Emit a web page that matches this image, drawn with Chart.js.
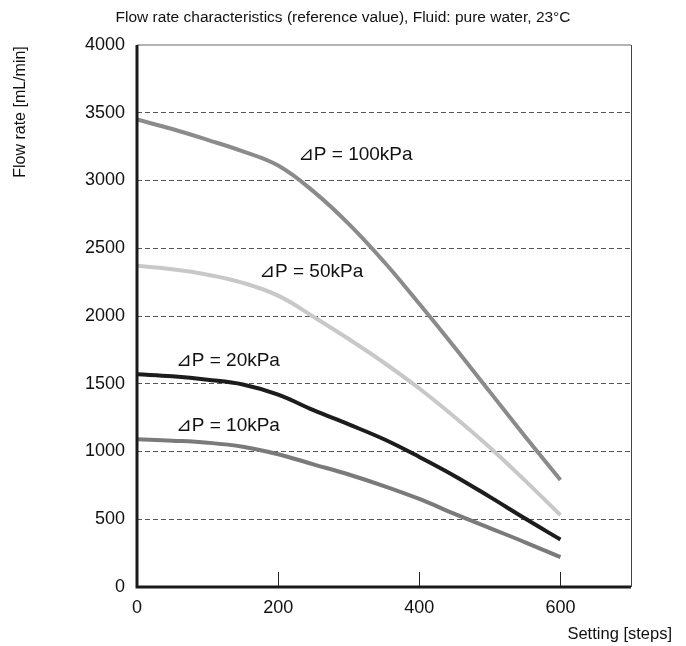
<!DOCTYPE html>
<html>
<head>
<meta charset="utf-8">
<script src="https://cdn.jsdelivr.net/npm/chart.js@4.4.0/dist/chart.umd.min.js"></script>
<style>
  html, body { margin: 0; padding: 0; background: #fff; }
  #wrap { width: 686px; height: 646px; }
</style>
</head>
<body>
<div id="wrap"><canvas id="flow"></canvas></div>
<script>
// setting [steps]
const steps = [0, 50, 100, 150, 200, 250, 300, 350, 400, 450, 500, 550, 600];

// flow rate [mL/min] per differential pressure
const flow100 = [3450, 3380, 3300, 3215, 3110, 2920, 2680, 2400, 2090, 1770, 1440, 1110, 790];
const flow50  = [2370, 2345, 2305, 2245, 2150, 1995, 1830, 1655, 1465, 1255, 1030, 785, 530];
const flow20  = [1570, 1555, 1530, 1495, 1420, 1305, 1200, 1090, 960, 820, 665, 505, 350];
const flow10  = [1090, 1080, 1065, 1035, 980, 905, 830, 745, 650, 540, 435, 330, 220];

const xTicks = [0, 200, 400, 600];
const yTicks = [0, 500, 1000, 1500, 2000, 2500, 3000, 3500, 4000];

const seriesNames = ['⊿P = 100kPa', '⊿P = 50kPa', '⊿P = 20kPa', '⊿P = 10kPa'];
// label anchor (left edge, middle) in data units
const labelX = [228, 173, 55, 55];
const labelY = [3190, 2325, 1670, 1190];

const FONT = "'Liberation Sans', Arial, 'DejaVu Sans', sans-serif";
const INK = '#111';

function toPoints(vals) {
    return steps.map((s, i) => ({ x: s, y: vals[i] }));
}

const lineColors = ['#8b8b8b', '#c8c8c8', '#1c1c1c', '#7a7a7a'];
const allSeries = [flow100, flow50, flow20, flow10];

// frame, inner ticks, series labels and axis titles
const decorPlugin = {
    id: 'decor',
    beforeDatasetsDraw(chart) {
        const { ctx, chartArea: a, scales } = chart;
        ctx.save();
        // top + right border
        ctx.strokeStyle = '#999';
        ctx.lineWidth = 1.5;
        ctx.beginPath();
        ctx.moveTo(a.left, a.top);
        ctx.lineTo(a.right, a.top);
        ctx.stroke();
        ctx.strokeStyle = '#444';
        ctx.lineWidth = 1;
        ctx.beginPath();
        ctx.moveTo(a.right + 0.5, a.top);
        ctx.lineTo(a.right + 0.5, a.bottom);
        ctx.stroke();
        // inner tick marks on x
        ctx.strokeStyle = '#222';
        ctx.lineWidth = 1;
        xTicks.slice(1).forEach(v => {
            const px = Math.round(scales.x.getPixelForValue(v)) + 0.5;
            ctx.beginPath();
            ctx.moveTo(px, a.bottom);
            ctx.lineTo(px, a.bottom - 15);
            ctx.stroke();
        });
        ctx.restore();
    },
    afterDatasetsDraw(chart) {
        const { ctx, chartArea: a, scales } = chart;
        ctx.save();
        // left + bottom axes, thick
        ctx.strokeStyle = '#1a1a1a';
        ctx.lineWidth = 3;
        ctx.beginPath();
        ctx.moveTo(a.left, a.top);
        ctx.lineTo(a.left, a.bottom);
        ctx.lineTo(a.right, a.bottom);
        ctx.stroke();

        // series labels
        ctx.fillStyle = INK;
        ctx.font = '19px ' + FONT;
        ctx.textAlign = 'left';
        ctx.textBaseline = 'middle';
        seriesNames.forEach((name, i) => {
            ctx.fillText(name, scales.x.getPixelForValue(labelX[i]), scales.y.getPixelForValue(labelY[i]));
        });

        // title
        ctx.font = '15.5px ' + FONT;
        ctx.textAlign = 'center';
        ctx.fillText('Flow rate characteristics (reference value), Fluid: pure water, 23°C', 343, 18);

        // x axis title
        ctx.font = '16.5px ' + FONT;
        ctx.textAlign = 'right';
        ctx.fillText('Setting [steps]', 672, 634);

        // y axis title
        ctx.font = '16px ' + FONT;
        ctx.translate(21, 112);
        ctx.rotate(-Math.PI / 2);
        ctx.textAlign = 'center';
        ctx.fillText('Flow rate [mL/min]', 0, 0);
        ctx.restore();
    }
};

new Chart(document.getElementById('flow'), {
    type: 'line',
    data: {
        datasets: allSeries.map((vals, i) => ({
            label: seriesNames[i],
            data: toPoints(vals),
            borderColor: lineColors[i],
            borderWidth: 4,
            pointRadius: 0,
            tension: 0.4,
            fill: false
        }))
    },
    options: {
        responsive: true,
        maintainAspectRatio: false,
        animation: false,
        layout: { padding: { left: 0, right: 55, top: 45, bottom: 0 } },
        scales: {
            x: {
                type: 'linear',
                min: 0,
                max: 700,
                afterBuildTicks: s => { s.ticks = xTicks.map(v => ({ value: v })); },
                afterFit: s => { s.height = 59; },
                grid: { display: false, drawTicks: false },
                border: { display: false },
                ticks: {
                    color: INK,
                    padding: 10,
                    font: { family: FONT, size: 18 },
                    callback: v => String(v)
                }
            },
            y: {
                min: 0,
                max: 4000,
                afterBuildTicks: s => { s.ticks = yTicks.map(v => ({ value: v })); },
                afterFit: s => { s.width = 137; },
                grid: {
                    drawTicks: false,
                    color: ctx => (ctx.tick && (ctx.tick.value === 0 || ctx.tick.value === 4000)) ? 'rgba(0,0,0,0)' : '#555',
                    lineWidth: 1
                },
                border: { display: false, dash: [5, 3] },
                ticks: {
                    color: INK,
                    padding: 12,
                    font: { family: FONT, size: 18 },
                    callback: v => String(v)
                }
            }
        },
        plugins: {
            legend: { display: false },
            title: { display: false },
            tooltip: { enabled: false }
        }
    },
    plugins: [decorPlugin]
});
</script>
</body>
</html>
